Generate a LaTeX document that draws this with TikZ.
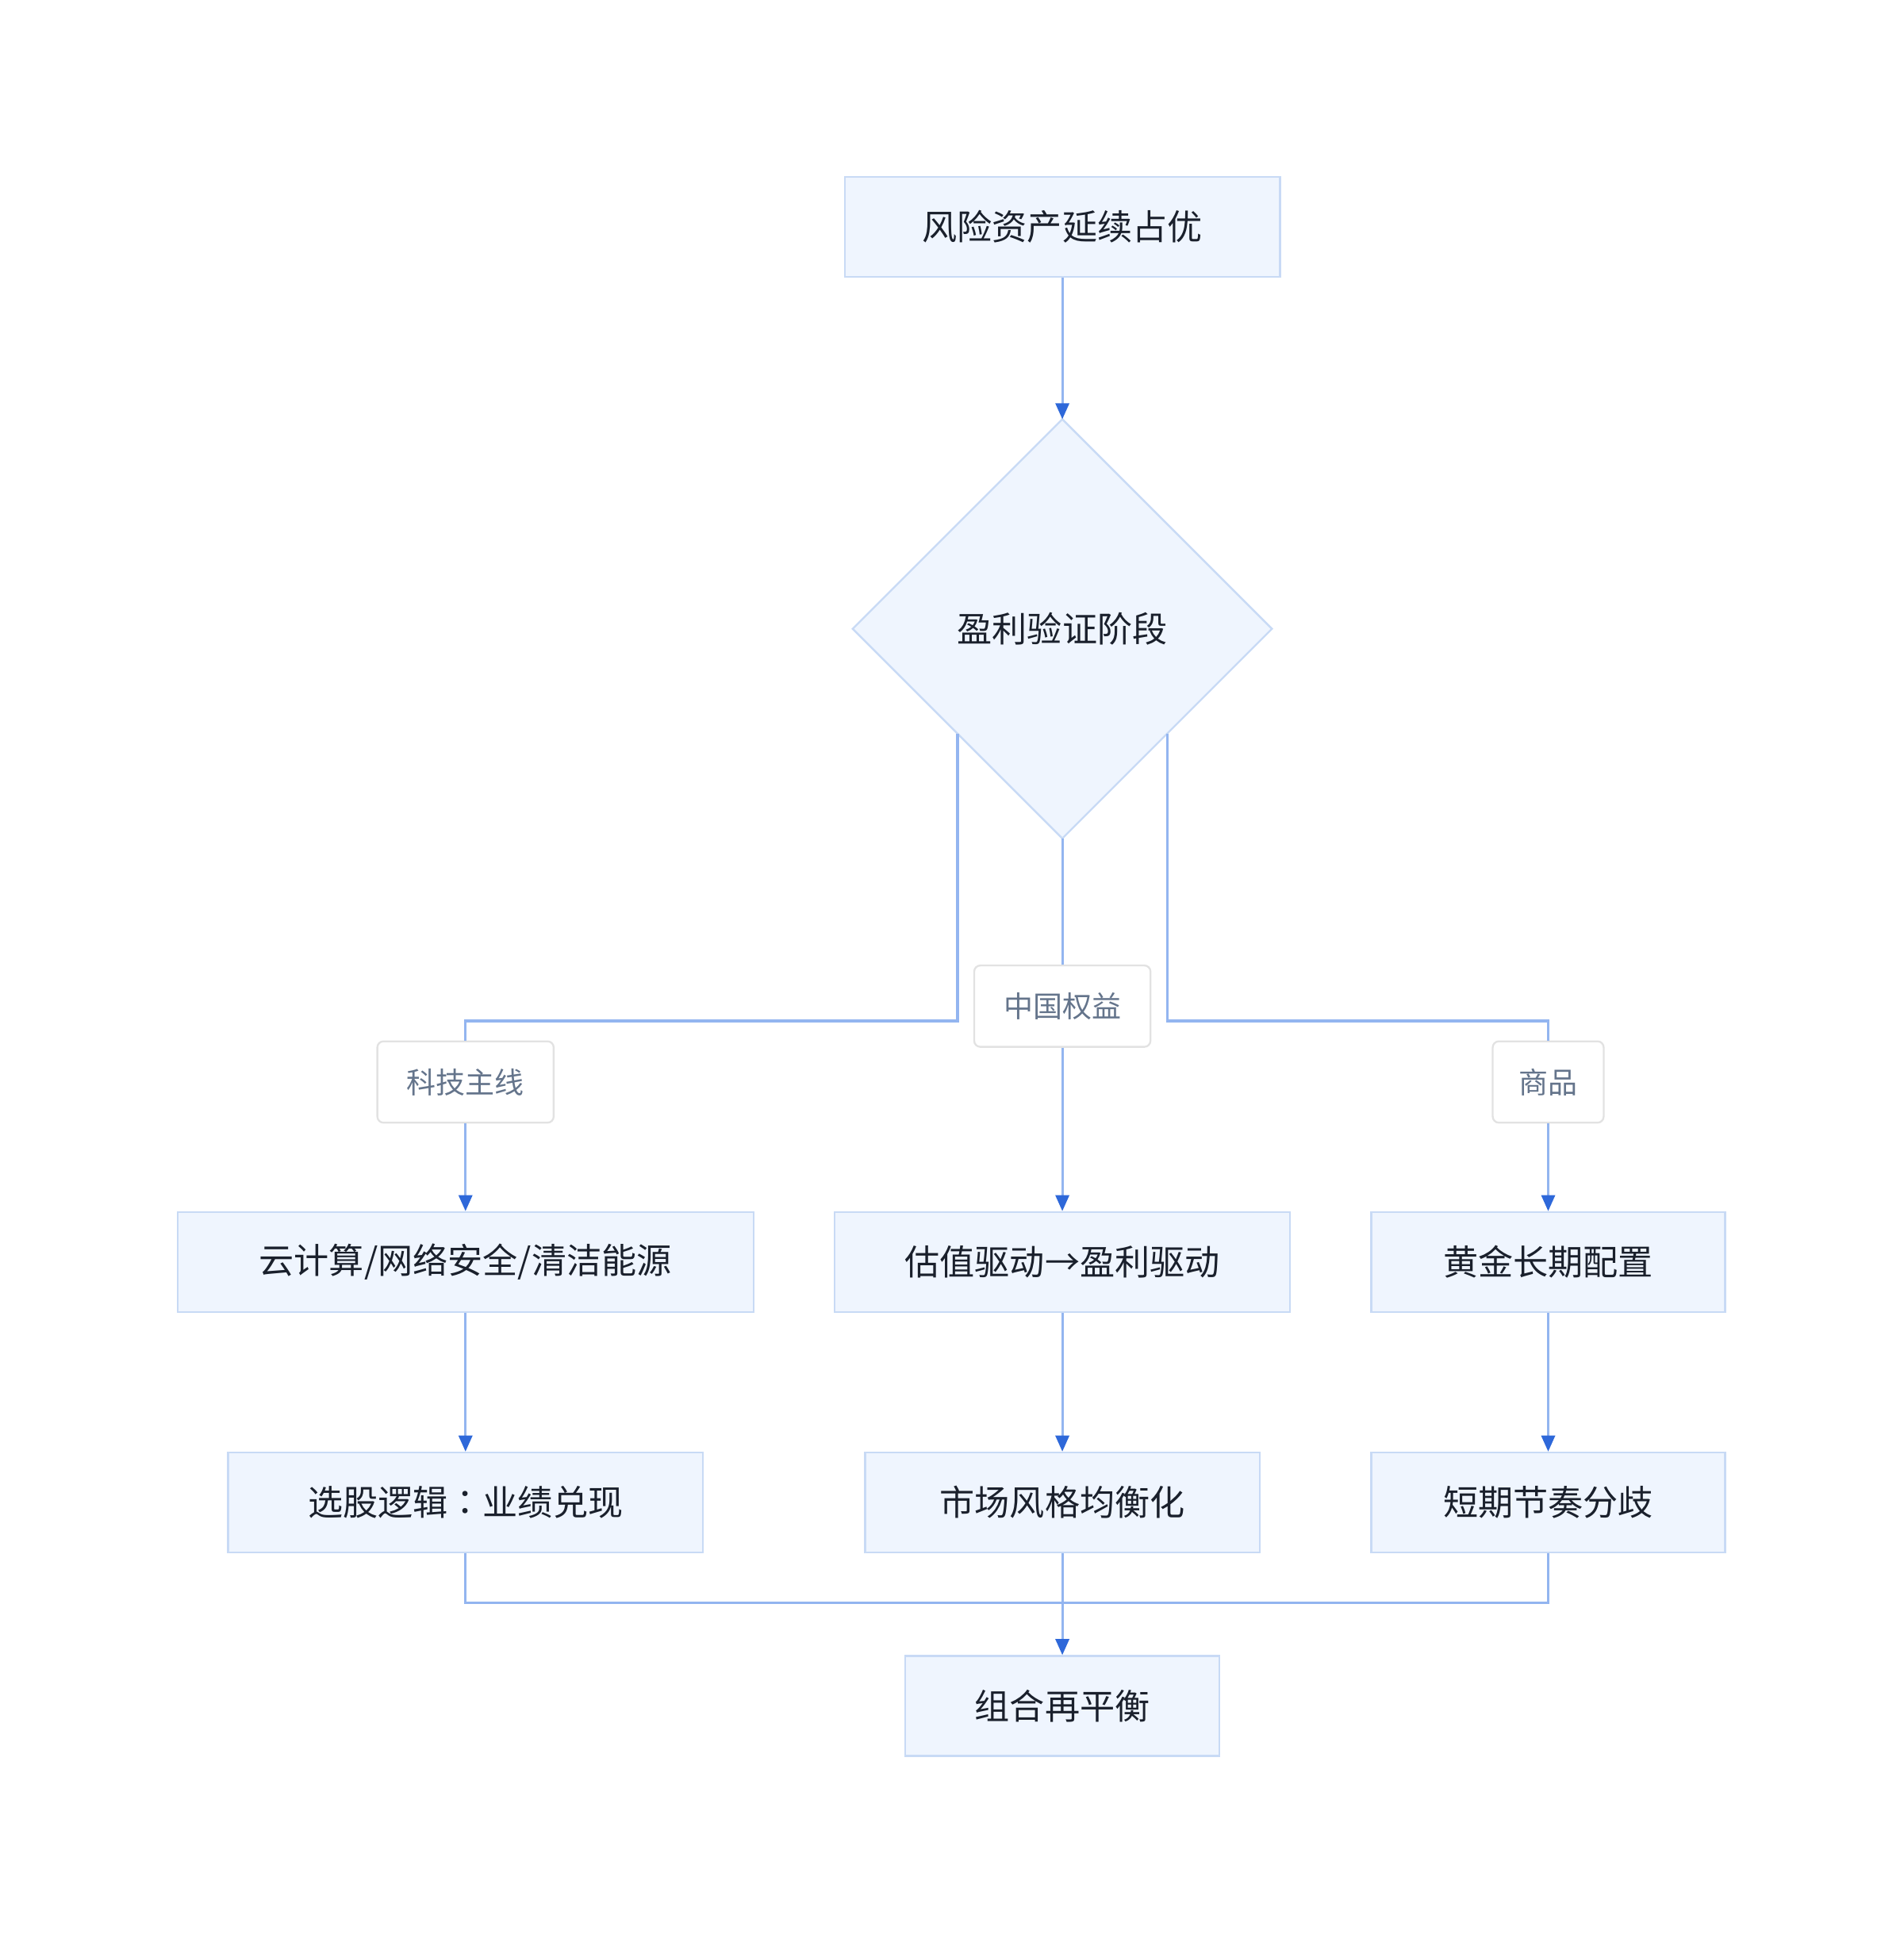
\documentclass[tikz,border=0pt]{standalone}
\usepackage{fontspec}
\setmainfont{Noto Sans CJK SC}
\newfontfamily\jpcolon{Noto Sans CJK JP}
\usetikzlibrary{shapes.geometric, arrows.meta, positioning}
\definecolor{boxfill}{HTML}{EFF5FE}
\definecolor{boxline}{HTML}{C8DAF5}
\definecolor{linkblue}{HTML}{93B5F0}
\definecolor{tipblue}{HTML}{2E68D9}
\definecolor{txt}{HTML}{1A202C}
\definecolor{labtxt}{HTML}{64748B}
\definecolor{labline}{HTML}{E2E2E2}

\begin{document}
\begin{tikzpicture}[x=0.5pt, y=-0.5pt,
  box/.style={draw=boxline, fill=boxfill, line width=0.75pt, text=txt, minimum height=40.5pt, inner sep=0pt, font=\fontsize{14.2}{17}\selectfont},
  dia/.style={diamond, draw=boxline, fill=boxfill, line width=0.75pt, text=txt, minimum width=170pt, minimum height=170pt, aspect=1, inner sep=0pt, outer sep=0pt, font=\fontsize{14.2}{17}\selectfont},
  lab/.style={draw=labline, fill=white, rounded corners=2.5pt, line width=0.75pt, text=labtxt, minimum height=33pt, inner sep=0pt, font=\fontsize{11.9}{14}\selectfont},
  link/.style={draw=linkblue, line width=1pt},
  arr/.style={link, -{Triangle[length=6.5pt, width=5.5pt, color=tipblue]}}]
\useasboundingbox (0,0) rectangle (1544,1568.5);
\node[box, minimum width=176.5pt] (top) at (861.5,184) {风险资产延续占优};
\node[dia] (chk) at (861.5,510) {盈利验证阶段};
\node[lab, minimum width=71.5pt] (lt) at (377.5,877.5) {科技主线};
\node[lab, minimum width=71.5pt] (lc) at (861.5,816) {中国权益};
\node[lab, minimum width=45pt] (lg) at (1255.5,877.5) {商品};
\node[box, minimum width=233.5pt] (tech) at (377.5,1023.5) {云计算/网络安全/清洁能源};
\node[box, minimum width=184.5pt] (val) at (861.5,1023.5) {估值驱动→盈利驱动};
\node[box, minimum width=143.5pt] (gold) at (1255.5,1023.5) {黄金长期配置};
\node[box, minimum width=192.5pt] (pick) at (377.5,1218.5) {选股逻辑{\jpcolon ：}业绩兑现};
\node[box, minimum width=160pt] (bal) at (861.5,1218.5) {市场风格均衡化};
\node[box, minimum width=143.5pt] (div) at (1255.5,1218.5) {短期节奏分歧};
\node[box, minimum width=127.5pt] (reb) at (861.5,1383.5) {组合再平衡};
\coordinate (jl) at (377.5,828);
\coordinate (jr) at (1255.5,828);
\coordinate (jb) at (861.5,1300);
\draw[arr] (top.south) -- (chk.north);
\draw[link] (chk.south west) |- (jl) -- (lt.north);
\draw[link] (chk.south) -- (lc.north);
\draw[link] (chk.south east) |- (jr) -- (lg.north);
\draw[arr] (lt.south) -- (tech.north);
\draw[arr] (lc.south) -- (val.north);
\draw[arr] (lg.south) -- (gold.north);
\draw[arr] (tech.south) -- (pick.north);
\draw[arr] (val.south) -- (bal.north);
\draw[arr] (gold.south) -- (div.north);
\draw[link] (pick.south) |- (jb);
\draw[link] (div.south) |- (jb);
\draw[arr] (bal.south) -- (reb.north);
\end{tikzpicture}
\end{document}
